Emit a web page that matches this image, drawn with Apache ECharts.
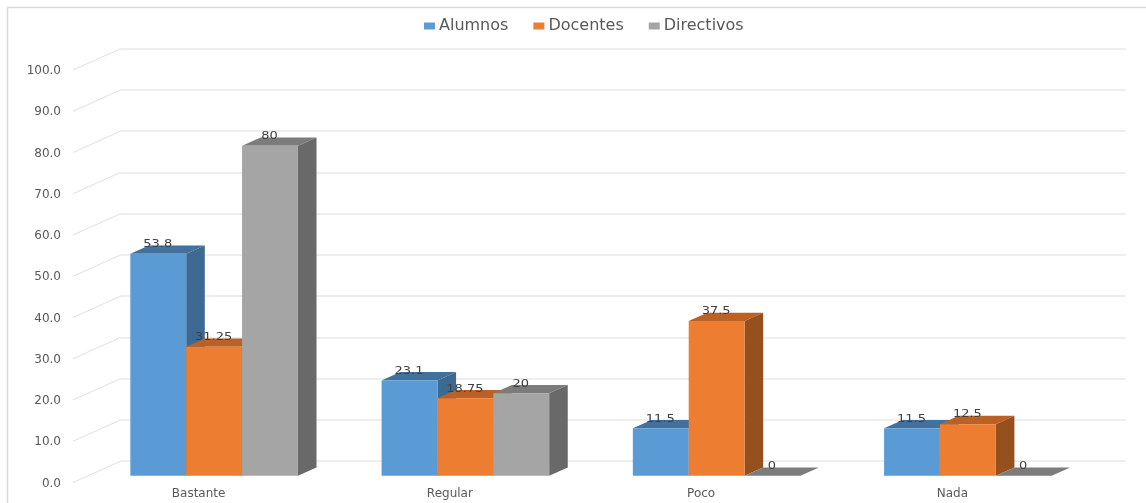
<!DOCTYPE html>
<html>
<head>
<meta charset="utf-8">
<script src="https://cdn.jsdelivr.net/npm/echarts@6/dist/echarts.min.js"></script>
<style>html,body{margin:0;padding:0;background:#fff}#chart{width:1146px;height:503px}</style>
</head>
<body>
<div id="chart"></div>
<script>
const categories = ['Bastante', 'Regular', 'Poco', 'Nada'];
const alumnos = [53.8, 23.1, 11.5, 11.5];
const docentes = [31.25, 18.75, 37.5, 12.5];
const directivos = [80, 20, 0, 0];
const yTicks = [0, 10, 20, 30, 40, 50, 60, 70, 80, 90, 100];

const FONT = '"DejaVu Sans", sans-serif';

// Oblique projection: the back wall is grid 0, the front edge of the floor is grid 1.
const FLOOR_DX = -48, FLOOR_DY = 21.5;
// Bars stand on the floor; these are the shifts from the wall to their front face and the column depth.
const BAR_DX = -32.5, BAR_DY = 14.7, DEPTH_DX = 18.6, DEPTH_DY = 8.3;
const BAR_BAND = 55.8 / 251;

function pairs(values) {
  return values.map((v, i) => [i, v]);
}

function barRenderer(seriesPos, front, top, side) {
  return function (params, api) {
    const cat = api.value(0), val = api.value(1);
    const band = api.size([1, 0])[0];
    const w = band * BAR_BAND;
    const c = api.coord([cat, val]);
    const base = api.coord([cat, 0]);
    const xl = c[0] + BAR_DX + (seriesPos - 1.5) * w;
    const xr = xl + w;
    const yt = c[1] + BAR_DY;
    const yb = base[1] + BAR_DY;
    const poly = (points, fill) => ({
      type: 'polygon',
      shape: { points: points },
      style: { fill: fill, stroke: null }
    });
    const children = [
      poly([[xl, yt], [xr, yt], [xr + DEPTH_DX, yt - DEPTH_DY], [xl + DEPTH_DX, yt - DEPTH_DY]], top)
    ];
    if (val > 0) {
      children.push(
        poly([[xr, yt], [xr + DEPTH_DX, yt - DEPTH_DY], [xr + DEPTH_DX, yb - DEPTH_DY], [xr, yb]], side),
        poly([[xl, yt], [xr, yt], [xr, yb], [xl, yb]], front)
      );
    }
    // Value label, stretched sideways to sit flat on the column's top face
    children.push({
      type: 'text',
      z2: 100,
      x: (xl + xr) / 2 - 0.5,
      y: yt - 9.5,
      scaleX: 1.18,
      style: {
        text: String(val),
        font: '11px ' + FONT,
        fill: '#404040',
        align: 'center',
        verticalAlign: 'middle'
      }
    });
    return { type: 'group', children: children };
  };
}

function barSeries(name, values, pos, front, top, side) {
  return {
    type: 'custom',
    name: name,
    xAxisIndex: 0,
    yAxisIndex: 0,
    z: 3 + pos,
    itemStyle: { color: front },
    encode: { x: 0, y: 1 },
    renderItem: barRenderer(pos, front, top, side),
    data: pairs(values)
  };
}

const chart = echarts.init(document.getElementById('chart'));
chart.setOption({
  animation: false,
  backgroundColor: '#ffffff',
  textStyle: { fontFamily: FONT },
  graphic: [
    { type: 'line', shape: { x1: 7.5, y1: 7.5, x2: 1146, y2: 7.5 }, style: { stroke: '#d9d9d9', lineWidth: 1.5 } },
    { type: 'line', shape: { x1: 7.5, y1: 7.5, x2: 7.5, y2: 503 }, style: { stroke: '#d9d9d9', lineWidth: 1.5 } }
  ],
  legend: {
    top: 13,
    left: 419,
    itemWidth: 11,
    itemHeight: 7,
    itemGap: 25,
    icon: 'rect',
    textStyle: { color: '#595959', fontSize: 16, fontFamily: FONT, padding: [0, 0, 0, -1] },
    data: ['Alumnos', 'Docentes', 'Directivos']
  },
  grid: [
    { left: 121, top: 48.5, width: 1005, height: 412.5 },
    { left: 73, top: 71, width: 1005, height: 412.5 }
  ],
  xAxis: [
    {
      gridIndex: 0, type: 'category', data: categories,
      axisLine: { show: false }, axisTick: { show: false }, axisLabel: { show: false }
    },
    {
      gridIndex: 1, type: 'category', data: categories,
      axisLine: { show: false }, axisTick: { show: false },
      axisLabel: { color: '#595959', fontSize: 12, fontFamily: FONT, margin: 4 }
    }
  ],
  yAxis: [
    {
      gridIndex: 0, type: 'value', min: 0, max: 100, interval: 10,
      axisLine: { show: false }, axisTick: { show: false }, axisLabel: { show: false },
      splitLine: { lineStyle: { color: '#e8e8e8', width: 1.5 } }
    },
    {
      gridIndex: 1, type: 'value', min: 0, max: 100, interval: 10,
      axisLine: { show: false }, axisTick: { show: false }, splitLine: { show: false },
      axisLabel: {
        color: '#595959', fontSize: 12, fontFamily: FONT, margin: 12,
        formatter: v => v.toFixed(1)
      }
    }
  ],
  series: [
    {
      // Floor-side gridline stubs joining each tick label to the wall
      type: 'custom',
      name: 'ticks',
      xAxisIndex: 0,
      yAxisIndex: 0,
      z: 1,
      silent: true,
      encode: { x: 0, y: 1 },
      renderItem: function (params, api) {
        const band = api.size([1, 0])[0];
        const p = api.coord([0, api.value(1)]);
        const x = p[0] - band / 2;
        return {
          type: 'line',
          shape: { x1: x, y1: p[1], x2: x + FLOOR_DX, y2: p[1] + FLOOR_DY },
          style: { stroke: '#e4e4e4', lineWidth: 1.2 }
        };
      },
      data: yTicks.map(t => [0, t])
    },
    barSeries('Alumnos', alumnos, 0, '#5b9bd5', '#41719c', '#3d6a93'),
    barSeries('Docentes', docentes, 1, '#ed7d31', '#bb6125', '#96501d'),
    barSeries('Directivos', directivos, 2, '#a5a5a5', '#7c7c7c', '#696969')
  ]
});
</script>
</body>
</html>
